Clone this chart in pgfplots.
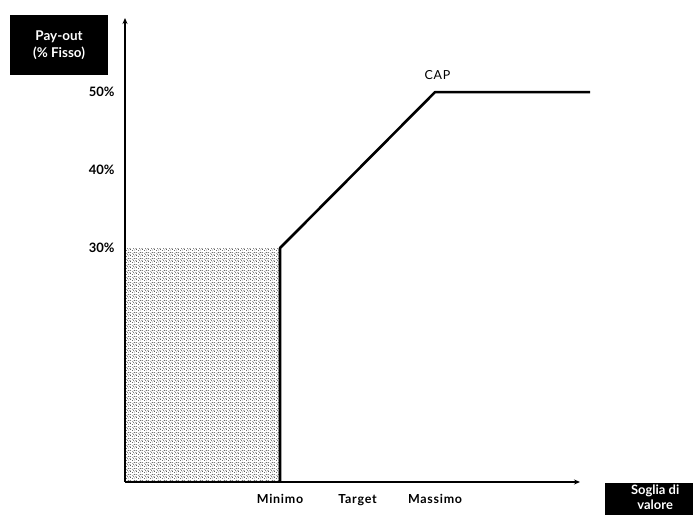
\documentclass[border=0pt]{standalone}
\usepackage{pgfplots}
\pgfplotsset{compat=1.18}
\usepackage{fontspec}
\setmainfont{Lato}
\usetikzlibrary{patterns,arrows.meta}

% irregular stipple for the area below the minimum
\pgfdeclarepatternformonly{stipple}{\pgfpointorigin}{\pgfpoint{6bp}{6bp}}{\pgfpoint{6bp}{6bp}}{
  \foreach \px/\py in {0.5/0.5, 3.2/1.1, 1.8/2.6, 4.6/3.0, 0.9/4.2, 3.5/4.9, 5.3/1.7, 2.4/5.4, 5.6/5.2}{
    \pgfpathcircle{\pgfpoint{\px bp}{\py bp}}{0.45bp}
  }
  \pgfusepath{fill}
}

\begin{document}
\begin{tikzpicture}
\path[use as bounding box] (0bp,0bp) rectangle (693bp,515bp);
\begin{axis}[
    at={(125bp,33bp)}, anchor=south west,
    scale only axis,
    width=455bp, height=464bp,
    xmin=0, xmax=5.87,
    ymin=0, ymax=59.5,
    axis lines=left,
    axis line style={line width=1.6pt, -{Stealth[length=6pt,width=5pt]}},
    clip=false,
    axis on top,
    xtick={2,3,4},
    xticklabels={Minimo,Target,Massimo},
    ytick={30,40,50},
    yticklabels={30\%,40\%,50\%},
    major tick length=0pt,
    xticklabel style={yshift=-9bp, font=\fontsize{12.5}{14}\selectfont\bfseries\addfontfeatures{LetterSpace=6}},
    yticklabel style={xshift=-7bp, font=\fontsize{13}{14}\selectfont\bfseries},
    /pgf/number format/assume math mode=true,
]
% stippled area up to the minimum threshold
\addplot[draw=none, pattern=stipple, pattern color=black]
    coordinates {(0,0) (2,0) (2,30) (0,30)} -- cycle;
% pay-out curve
\addplot[black, line width=2.6pt, line join=round]
    coordinates {(2,0) (2,30) (4,50) (6,50)};
\node[anchor=south, font=\fontsize{12.5}{14}\selectfont\addfontfeatures{LetterSpace=6}] at (axis cs:4.03,51.2) {CAP};
\end{axis}
\node[fill=black, text=white, align=center, minimum width=98bp, minimum height=60bp,
      inner sep=2pt, font=\fontsize{13.5}{17}\selectfont\bfseries] at (59bp,470bp)
      {Pay-out\\(\% Fisso)};
\node[fill=black, text=white, align=center, anchor=north west, minimum width=100bp,
      minimum height=60bp, inner sep=1.5pt, font=\fontsize{13}{15}\selectfont\bfseries,
      text depth=40bp] at (605bp,32bp)
      {Soglia di\\valore};
\end{tikzpicture}
\end{document}
